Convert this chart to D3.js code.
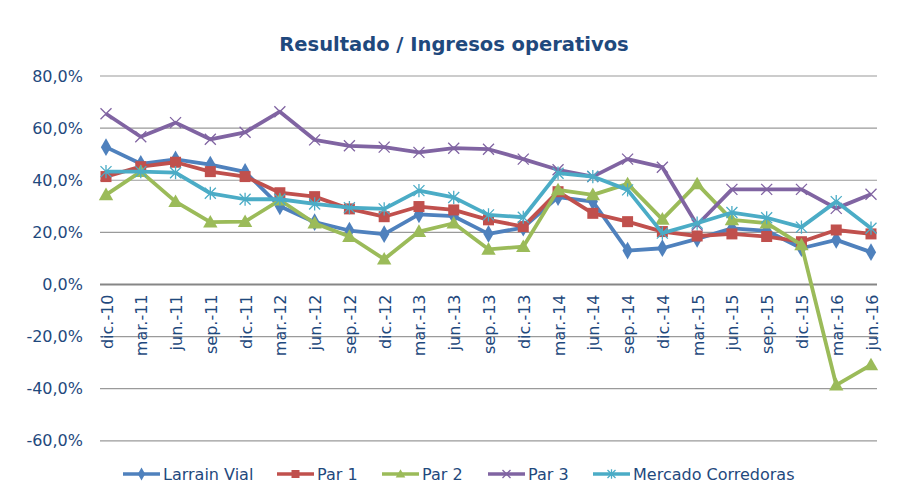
<!DOCTYPE html>
<html><head><meta charset="utf-8">
<script src="https://cdn.jsdelivr.net/npm/d3@7"></script>
<style>body{margin:0;background:#fff}svg{display:block}</style>
</head><body><svg id="c" width="899" height="503"></svg>
<script>
const categories = ["dic.-10","mar.-11","jun.-11","sep.-11","dic.-11","mar.-12","jun.-12","sep.-12","dic.-12","mar.-13","jun.-13","sep.-13","dic.-13","mar.-14","jun.-14","sep.-14","dic.-14","mar.-15","jun.-15","sep.-15","dic.-15","mar.-16","jun.-16"];
const larrainVial = [52.7,46.3,48.0,46.0,43.2,30.0,23.9,20.7,19.3,26.9,26.2,19.4,21.8,33.5,31.8,13.0,13.9,17.5,21.5,20.6,13.9,17.1,12.4];
const par1 = [41.4,45.2,46.9,43.3,41.4,35.2,33.7,29.0,26.0,29.9,28.6,24.8,22.2,35.6,27.3,24.1,20.3,18.6,19.4,18.4,16.4,20.9,19.4];
const par2 = [34.4,43.3,31.8,23.9,24.1,32.4,23.5,18.4,9.7,20.3,23.5,13.5,14.5,36.3,34.4,38.6,25.0,38.6,24.8,23.5,15.2,-38.6,-30.9];
const par3 = [65.5,56.7,62.1,55.7,58.4,66.3,55.5,53.2,52.7,50.7,52.3,51.9,48.1,44.0,41.4,48.1,45.0,22.8,36.5,36.5,36.5,29.2,34.6];
const mercado = [43.3,43.3,42.9,35.0,32.7,32.7,30.9,29.5,29.0,36.0,33.4,26.7,25.8,42.7,41.4,36.3,19.7,23.5,27.6,25.6,22.0,31.8,21.6];
const yTicks = [80,60,40,20,0,-20,-40,-60];
const seriesNames = ["Larrain Vial","Par 1","Par 2","Par 3","Mercado Corredoras"];
const seriesColors = ["#4F81BD","#C0504D","#9BBB59","#8064A2","#4BACC6"];
const seriesMarkers = ["diamond","square","triangle","x","asterisk"];
const seriesValues = [larrainVial, par1, par2, par3, mercado];

const svg = d3.select("#c");
const x = d3.scalePoint().domain(categories).range([106, 871]);
const y = d3.scaleLinear().domain([-60, 80]).range([440.8, 76]);
const font = "DejaVu Sans, Verdana, sans-serif";
const textCol = "#1F497D";

svg.append("text").attr("x", 454).attr("y", 51).attr("text-anchor","middle")
  .attr("font-family", font).attr("font-weight","bold").attr("font-size", 19.5)
  .attr("fill", "#1F497D").text("Resultado / Ingresos operativos");

// gridlines
svg.append("g").selectAll("line").data(yTicks).join("line")
  .attr("x1", 100).attr("x2", 877)
  .attr("y1", d => y(d)).attr("y2", d => y(d))
  .attr("stroke", d => d === 0 ? "#868686" : "#9a9a9a")
  .attr("stroke-width", d => d === 0 ? 2 : 1.2);

// y labels
const yAxis = d3.axisLeft(y).tickValues(yTicks).tickSize(0).tickPadding(0)
  .tickFormat(d => (d < 0 ? "-" : "") + d3.format(".1f")(Math.abs(d)).replace(".", ",") + "%");
const ya = svg.append("g").attr("transform","translate(83,0)").call(yAxis);
ya.select(".domain").remove();
ya.selectAll("text").attr("font-family", font).attr("font-size", 16).attr("fill", textCol);

// x labels
const xAxis = d3.axisBottom(x).tickSize(0).tickPadding(0);
const xa = svg.append("g").attr("transform", `translate(0,${y(0)})`).call(xAxis);
xa.select(".domain").remove();
xa.selectAll("text").attr("font-family", font).attr("font-size", 16).attr("fill", textCol)
  .attr("text-anchor","end").attr("dy", null)
  .attr("transform","translate(6,10) rotate(-90)");

function marker(g, type, color, size) {
  const s = size;
  if (type === "diamond") {
    g.append("path").attr("d", d3.symbol(d3.symbolDiamond, s*s*0.75)()).attr("fill", color);
  } else if (type === "square") {
    g.append("rect").attr("x", -s/2).attr("y", -s/2).attr("width", s).attr("height", s).attr("fill", color);
  } else if (type === "triangle") {
    g.append("path").attr("d", `M0,${-s*0.6}L${s*0.6},${s*0.45}L${-s*0.6},${s*0.45}Z`).attr("fill", color);
  } else if (type === "x") {
    const h = s/2;
    g.append("path").attr("d", `M${-h},${-h}L${h},${h}M${-h},${h}L${h},${-h}`).attr("stroke", color).attr("stroke-width", 1.3);
  } else if (type === "asterisk") {
    const h = s/2;
    g.append("path").attr("d", `M${-h},${-h}L${h},${h}M${-h},${h}L${h},${-h}M0,${-h*1.2}L0,${h*1.2}`).attr("stroke", color).attr("stroke-width", 1.3);
  }
}
const markerSize = [11, 11, 12, 11, 11];

const line = d3.line().x((d,i) => x(categories[i])).y(d => y(d));
seriesValues.forEach((vals, si) => {
  const g = svg.append("g");
  g.append("path").datum(vals).attr("d", line).attr("fill","none")
    .attr("stroke", seriesColors[si]).attr("stroke-width", 3.8).attr("stroke-linejoin","round");
  vals.forEach((v, i) => {
    const mg = g.append("g").attr("transform", `translate(${x(categories[i])},${y(v)})`);
    marker(mg, seriesMarkers[si], seriesColors[si], markerSize[si]);
  });
});

// legend
const legendX = [123, 277, 382, 488, 593];
const ly = 474;
seriesNames.forEach((n, si) => {
  const g = svg.append("g");
  const x0 = legendX[si];
  g.append("line").attr("x1", x0).attr("x2", x0 + 37).attr("y1", ly).attr("y2", ly)
    .attr("stroke", seriesColors[si]).attr("stroke-width", 3.5);
  const mg = g.append("g").attr("transform", `translate(${x0 + 18.5},${ly})`);
  marker(mg, seriesMarkers[si], seriesColors[si], 8);
  g.append("text").attr("x", x0 + 40).attr("y", ly + 6).attr("font-family", font)
    .attr("font-size", 16).attr("fill", textCol).text(n);
});
</script></body></html>
